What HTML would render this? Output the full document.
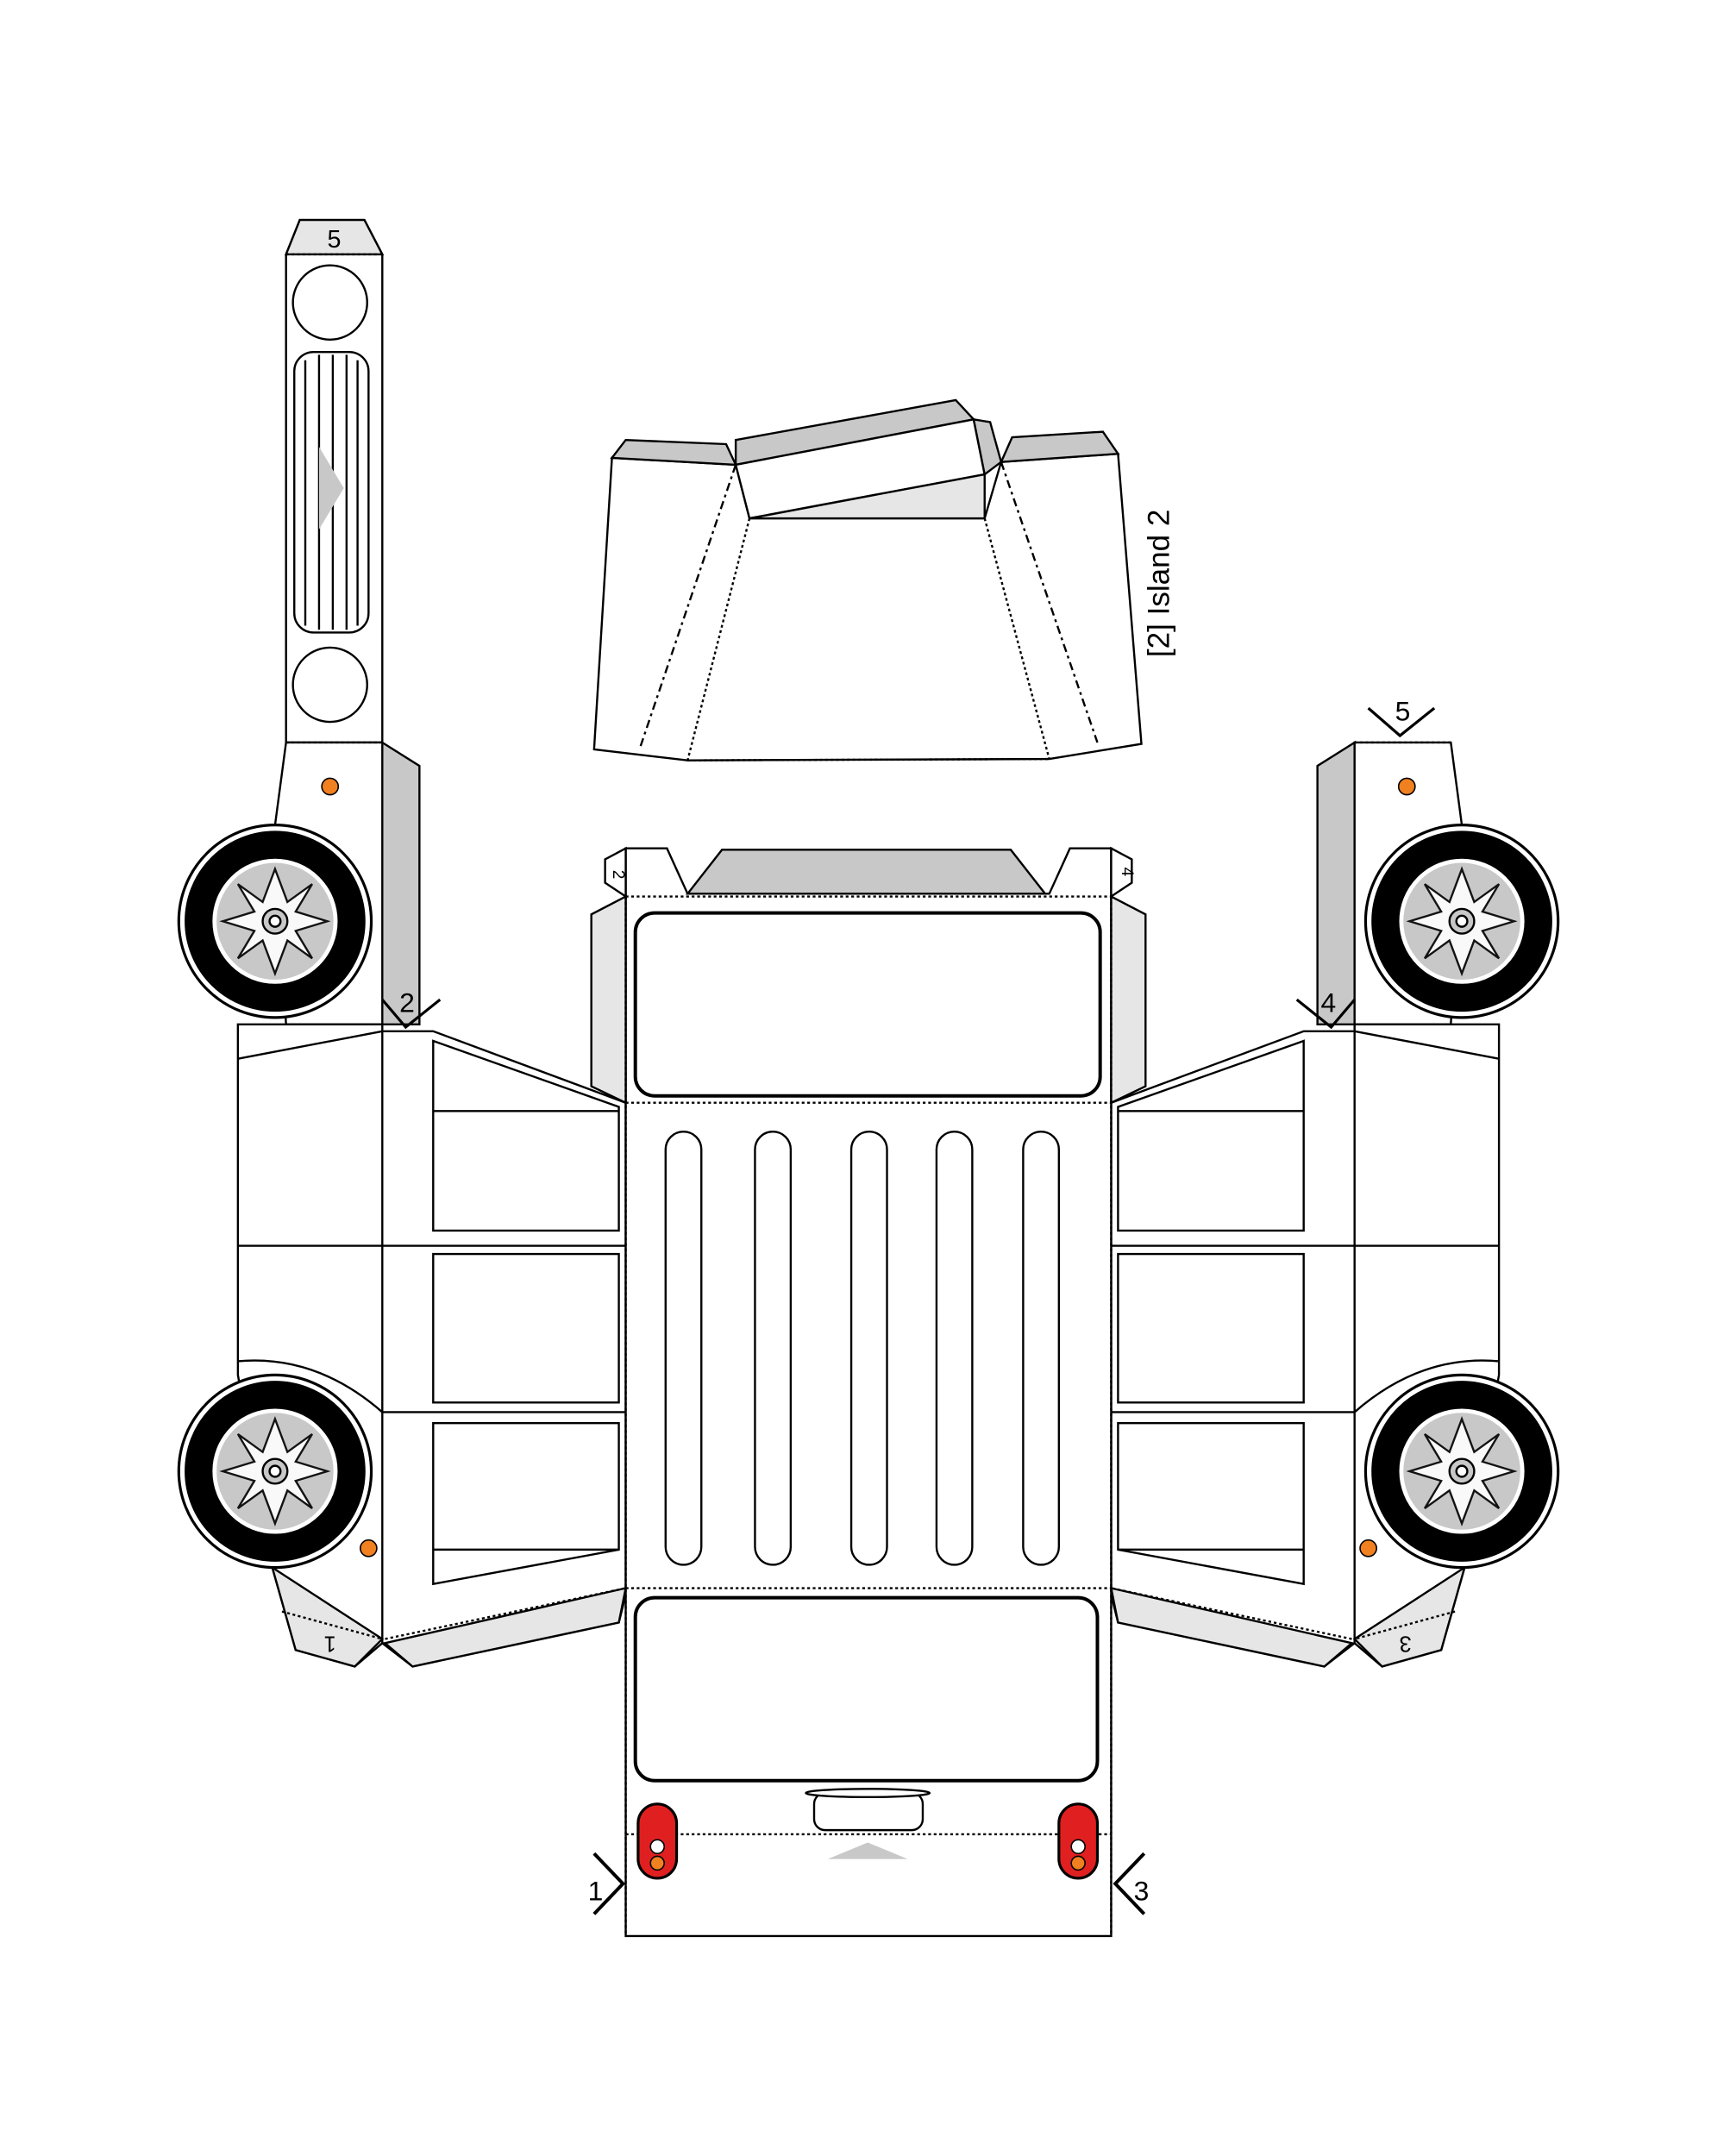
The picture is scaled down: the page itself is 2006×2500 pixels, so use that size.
<!DOCTYPE html>
<html><head><meta charset="utf-8"><style>
html,body{margin:0;padding:0;background:#fff}
svg{display:block}
text{font-family:"Liberation Sans",sans-serif}
</style></head><body>
<svg width="2006" height="2500" viewBox="0 0 1258 1568" preserveAspectRatio="none" xmlns="http://www.w3.org/2000/svg">
<defs>
<g id="wheel">
<circle r="70" fill="#fff" stroke="#000" stroke-width="2"/>
<circle r="65" fill="#000"/>
<circle r="44" fill="#c8c8c8" stroke="#fff" stroke-width="3"/>
<polygon points="0,-38 9,-14 27,-27 15,-7 38,0 15,7 27,27 9,14 0,38 -9,14 -27,27 -15,7 -38,0 -15,-7 -27,-27 -9,-14" fill="#fff" opacity="0.9"/>
<circle r="9" fill="#c8c8c8"/><circle r="4" fill="#fff"/>
</g>
<g id="side" stroke="#000" stroke-width="1.5" fill="#fff">
<polygon points="278,540 305,557 305,745 278,745" fill="#c8c8c8"/>
<path d="M208,540 L278,540 L278,745 L208,745 L200,600 Z"/>
<line x1="208" y1="540" x2="278" y2="540" stroke-dasharray="2,2"/>
<circle cx="240" cy="572" r="6" fill="#f08020" stroke="#000" stroke-width="1"/>
<path d="M173,745 L278,745 L278,750 L315,750 L455,802 L455,1160 L450,1180 L300,1212 L278,1195 L258,1212 L215,1200 L198,1140 L173,1000 Z"/>
<line x1="173" y1="770" x2="278" y2="750"/>
<line x1="278" y1="750" x2="278" y2="1195"/>
<line x1="173" y1="906" x2="455" y2="906"/>
<line x1="278" y1="1027" x2="455" y2="1027"/>
<path d="M173,990 Q230,985 278,1027" fill="none"/>
<polygon points="315,757 450,805 450,895 315,895"/>
<line x1="315" y1="808" x2="450" y2="808"/>
<rect x="315" y="912" width="135" height="108"/>
<polygon points="315,1035 450,1035 450,1127 315,1152"/>
<line x1="315" y1="1127" x2="450" y2="1127"/>
<polygon points="455,1155 450,1180 300,1212 280,1195" fill="#e6e6e6"/>
<line x1="280" y1="1192" x2="455" y2="1155" stroke-dasharray="2,2"/>
<polygon points="198,1140 278,1192 258,1212 215,1200" fill="#e6e6e6"/>
<line x1="205" y1="1172" x2="278" y2="1192" stroke-dasharray="2,2"/>
<circle cx="268" cy="1126" r="6" fill="#f08020" stroke="#000" stroke-width="1"/>
<path d="M278,727 L295,747 L320,727" fill="none" stroke-width="2"/>
<use href="#wheel" x="200" y="670"/>
<use href="#wheel" x="200" y="1070"/>
</g>
</defs>

<g stroke="#000" stroke-width="1.5" fill="#fff">
<polygon points="218,160 265,160 278,185 278,540 208,540 208,185"/>
<polygon points="218,160 265,160 278,185 208,185" fill="#e6e6e6"/>
<line x1="208" y1="185" x2="278" y2="185" stroke-dasharray="2,2"/>
<circle cx="240" cy="220" r="27"/>
<circle cx="240" cy="498" r="27"/>
<rect x="214" y="256" width="54" height="204" rx="14"/>
<line x1="222" y1="262" x2="222" y2="455"/>
<line x1="232" y1="258" x2="232" y2="458"/>
<line x1="242" y1="258" x2="242" y2="458"/>
<line x1="252" y1="258" x2="252" y2="458"/>
<line x1="260" y1="262" x2="260" y2="455"/>
</g>
<polygon points="232,325 250,355 232,385" fill="#c8c8c8"/>
<text x="243" y="180" font-size="18" text-anchor="middle">5</text>

<use href="#side"/>
<use href="#side" transform="translate(1263,0) scale(-1,1)"/>
<path d="M995,515 L1018,535 L1043,515" fill="none" stroke="#000" stroke-width="2"/>
<text x="1020" y="524" font-size="20" text-anchor="middle">5</text>
<text x="296" y="736" font-size="20" text-anchor="middle">2</text>
<text x="966" y="736" font-size="20" text-anchor="middle">4</text>
<text x="240" y="1190" font-size="16" text-anchor="middle" transform="rotate(180 240 1190)">1</text>
<text x="1022" y="1190" font-size="16" text-anchor="middle" transform="rotate(180 1022 1190)">3</text>

<g stroke="#000" stroke-width="1.5" fill="#fff">
<polygon points="445,333 535,338 545,377 716,377 728,336 813,330 830,541 763,552 500,553 432,545"/>
<polygon points="455,320 528,323 535,338 445,333" fill="#c8c8c8"/>
<polygon points="535,320 695,291 708,305 535,338" fill="#c8c8c8"/>
<polygon points="535,338 708,305 716,345 545,377" fill="#fff"/>
<polygon points="545,377 716,345 716,377" fill="#e6e6e6"/>
<polygon points="708,305 720,307 728,336 716,345" fill="#c8c8c8"/>
<polygon points="736,318 802,314 813,330 728,336" fill="#c8c8c8"/>
<line x1="535" y1="338" x2="465" y2="545" stroke-dasharray="6,3,2,3"/>
<line x1="545" y1="377" x2="500" y2="553" stroke-dasharray="2,2"/>
<line x1="728" y1="336" x2="798" y2="540" stroke-dasharray="6,3,2,3"/>
<line x1="716" y1="377" x2="763" y2="552" stroke-dasharray="2,2"/>
<line x1="500" y1="553" x2="763" y2="552" stroke-dasharray="2,2"/>
</g>
<text x="0" y="0" font-size="22" transform="translate(850,478) rotate(-90)">[2] Island 2</text>

<g stroke="#000" stroke-width="1.5" fill="#fff">
<polygon points="455,617 485,617 500,650 763,650 778,617 808,617 808,1408 455,1408"/>
<polygon points="500,650 525,618 735,618 760,650" fill="#c8c8c8"/>
<polygon points="455,652 430,665 430,790 455,802" fill="#e6e6e6"/>
<polygon points="808,652 833,665 833,790 808,802" fill="#e6e6e6"/>
<polygon points="455,617 440,625 440,642 455,652" fill="#fff"/>
<polygon points="808,617 823,625 823,642 808,652" fill="#fff"/>
<line x1="455" y1="652" x2="808" y2="652" stroke-dasharray="2,2"/>
<line x1="455" y1="652" x2="455" y2="1408" stroke-dasharray="2,2"/>
<line x1="808" y1="652" x2="808" y2="1408" stroke-dasharray="2,2"/>
<line x1="455" y1="802" x2="808" y2="802" stroke-dasharray="2,2"/>
<line x1="455" y1="1155" x2="808" y2="1155" stroke-dasharray="2,2"/>
<line x1="455" y1="1334" x2="808" y2="1334" stroke-dasharray="2,2"/>
<rect x="462" y="664" width="338" height="133" rx="14" stroke-width="2.5"/>
<rect x="462" y="1162" width="336" height="133" rx="14" stroke-width="2.5"/>
<rect x="484" y="823" width="26" height="315" rx="13"/>
<rect x="549" y="823" width="26" height="315" rx="13"/>
<rect x="619" y="823" width="26" height="315" rx="13"/>
<rect x="681" y="823" width="26" height="315" rx="13"/>
<rect x="744" y="823" width="26" height="315" rx="13"/>
<rect x="592" y="1304" width="79" height="27" rx="8"/>
<ellipse cx="631" cy="1304" rx="45" ry="3"/>
<rect x="464" y="1312" width="28" height="54" rx="14" fill="#e02020" stroke-width="2"/>
<rect x="770" y="1312" width="28" height="54" rx="14" fill="#e02020" stroke-width="2"/>
<circle cx="478" cy="1343" r="5" fill="#fff" stroke-width="1"/>
<circle cx="478" cy="1355" r="5" fill="#f08020" stroke-width="1"/>
<circle cx="784" cy="1343" r="5" fill="#fff" stroke-width="1"/>
<circle cx="784" cy="1355" r="5" fill="#f08020" stroke-width="1"/>
</g>
<polygon points="602,1352 631,1340 660,1352" fill="#c8c8c8"/>
<text x="446" y="636" font-size="12" transform="rotate(90 446 636)" text-anchor="middle">2</text>
<text x="816" y="634" font-size="12" transform="rotate(90 816 634)" text-anchor="middle">4</text>
<path d="M432,1348 L453,1370 L432,1392" fill="none" stroke="#000" stroke-width="2.5"/>
<path d="M832,1348 L811,1370 L832,1392" fill="none" stroke="#000" stroke-width="2.5"/>
<text x="433" y="1382" font-size="20" text-anchor="middle">1</text>
<text x="830" y="1382" font-size="20" text-anchor="middle">3</text>
</svg>
</body></html>
